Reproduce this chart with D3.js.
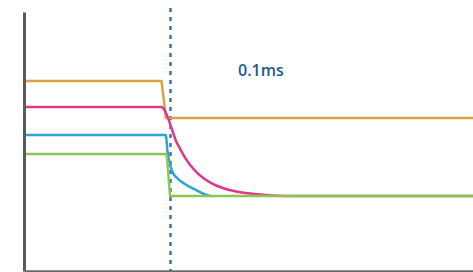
<!DOCTYPE html>
<html><head><meta charset="utf-8">
<script src="https://cdn.jsdelivr.net/npm/d3@7"></script>
<style>html,body{margin:0;padding:0;background:#fff;overflow:hidden}</style>
</head><body>
<svg id="c" width="473" height="272"></svg>
<script>
// time axis in arbitrary units (event at t=146), level axis in arbitrary units
const eventTime = 146.5;
const label = "0.1ms";
const orange = [[0,190],[137.5,190],[142,153],[449,153]];
const pink = [[0,164],[137,164],[139.5,162.5],[141.5,159],[144,153],[148,141.5],[152,130],[156,122.4],[161,113.4],[166,106.2],[173,98.3],[181,91.7],[191,86],[201,82.3],[211,79.8],[226,77.4],[241,76],[260,75],[449,75]];
const blue = [[0,136],[141.5,136],[142.3,133],[143.3,121],[145,111],[148,100],[153,93],[161,87],[171,81.5],[180,77],[186,75]];
const green = [[0,117],[142,117],[143,114],[146,75],[449,75]];

const svg = d3.select("#c");
const x = d3.scaleLinear().domain([0, 449]).range([24, 473]);
const y = d3.scaleLinear().domain([0, 259]).range([271, 12]);

const line = d3.line().x(d => x(d[0])).y(d => y(d[1]));
const smooth = d3.line().x(d => x(d[0])).y(d => y(d[1])).curve(d3.curveMonotoneX);

// dotted event line
svg.append("line")
  .attr("x1", x(eventTime)).attr("x2", x(eventTime))
  .attr("y1", 8).attr("y2", 272)
  .attr("stroke", "#3a74ad").attr("stroke-width", 2.5)
  .attr("stroke-dasharray", "4,5");

const series = [
  {d: orange, c: "#d7a443", g: line},
  {d: pink, c: "#e2358d", g: smooth},
  {d: blue, c: "#2aa2da", g: smooth},
  {d: green, c: "#8cc651", g: line}
];
series.forEach(s => {
  svg.append("path").attr("d", s.g(s.d)).attr("fill", "none")
    .attr("stroke", s.c).attr("stroke-width", 2.5)
    .attr("stroke-linejoin", "round");
});

// axes
const ax = svg.append("g").attr("transform", `translate(${x(0)},0)`)
  .call(d3.axisLeft(y).ticks(0).tickSize(0).tickSizeOuter(0));
ax.select(".domain").attr("stroke", "#5a5a5a").attr("stroke-width", 3);
const bx = svg.append("g").attr("transform", `translate(0,${y(0)})`)
  .call(d3.axisBottom(x).ticks(0).tickSize(0).tickSizeOuter(0));
bx.select(".domain").attr("stroke", "#6a6a6a").attr("stroke-width", 2.5);

svg.append("text").attr("x", 238).attr("y", 75.5)
  .attr("font-family", "Open Sans, sans-serif").attr("font-size", 16)
  .attr("font-weight", 600).attr("fill", "#1d5a92").text(label);
</script>
</body></html>
